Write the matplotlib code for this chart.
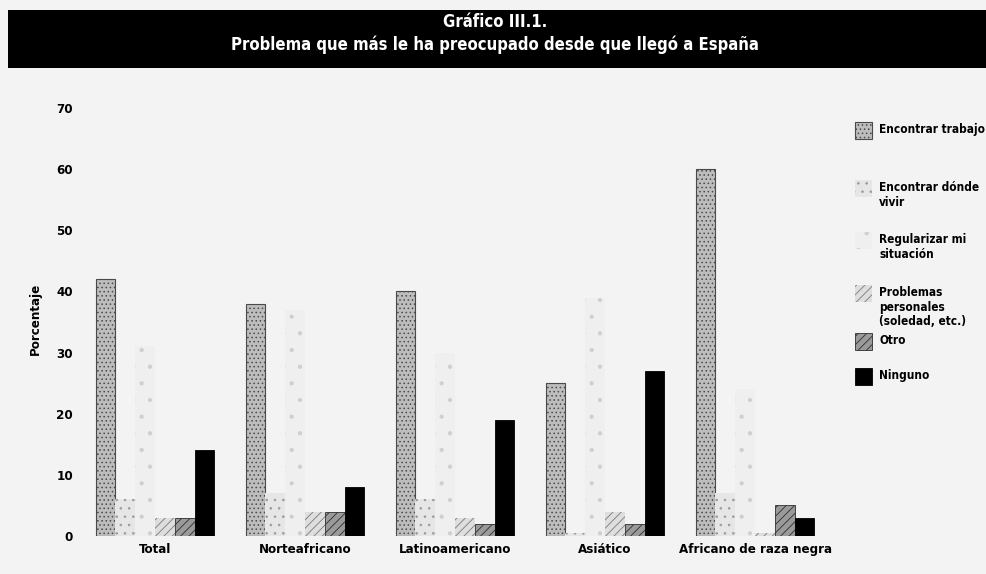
import matplotlib
matplotlib.use("Agg")
import matplotlib.pyplot as plt
import numpy as np
from matplotlib.patches import Rectangle

plt.rcParams["font.family"] = ["DejaVu Sans"]
plt.rcParams["font.stretch"] = "condensed"
plt.rcParams["font.weight"] = "bold"
plt.rcParams["hatch.linewidth"] = 0.6

groups = ["Total", "Norteafricano", "Latinoamericano", "Asiático", "Africano de raza negra"]
series = [
    "Encontrar trabajo",
    "Encontrar dónde\nvivir",
    "Regularizar mi\nsituación",
    "Problemas\npersonales\n(soledad, etc.)",
    "Otro",
    "Ninguno",
]
trabajo = [42, 38, 40, 25, 60]
donde_vivir = [6, 7, 6, 0.5, 7]
regularizar = [31, 37, 30, 39, 24]
personales = [3, 4, 3, 4, 0.5]
otro = [3, 4, 2, 2, 5]
ninguno = [14, 8, 19, 27, 3]
values = [trabajo, donde_vivir, regularizar, personales, otro, ninguno]
y_ticks = [0, 10, 20, 30, 40, 50, 60, 70]

styles = [
    dict(facecolor="#bdbdbd", edgecolor="#4a4a4a", hatch="....", linewidth=0.8),
    dict(facecolor="#e6e6e6", edgecolor="#9a9a9a", hatch="..", linewidth=0),
    dict(facecolor="#efefef", edgecolor="#cfcfcf", hatch=".", linewidth=0),
    dict(facecolor="#dedede", edgecolor="#7a7a7a", hatch="////", linewidth=0),
    dict(facecolor="#9a9a9a", edgecolor="#2e2e2e", hatch="////", linewidth=0.6),
    dict(facecolor="#000000", edgecolor="#000000", hatch=None, linewidth=0.6),
]
# legend swatch tops, in pixels from the top of the figure
legend_tops = [122, 180, 232, 285, 333, 368]

W, H = 986, 574
bg = "#f3f3f3"
fig = plt.figure(figsize=(W / 100, H / 100), dpi=100, facecolor=bg)
ax = fig.add_axes([0.0811, 0.0662, 0.7607, 0.7456])
ax.set_facecolor("none")

x = np.arange(len(groups))
w = 0.132
for i, (vals, st) in enumerate(zip(values, styles)):
    ax.bar(x + (i - 2.5) * w, vals, width=w, **st)

ax.set_xlim(-0.5, 4.5)
ax.set_ylim(0, 70)
ax.set_yticks(y_ticks)
ax.set_xticks(x)
ax.set_xticklabels(groups)
ax.tick_params(length=0, labelsize=9.5, pad=5)
for s in ax.spines.values():
    s.set_visible(False)

fig.text(0.036, 0.445, "Porcentaje", rotation=90, ha="center", va="center", fontsize=9.5)

# title banner
fig.add_artist(Rectangle((8 / W, 1 - 68 / H), 1 - 8 / W, 58 / H, transform=fig.transFigure,
                         facecolor="black", edgecolor="none", zorder=0))
fig.text(0.502, 1 - 22 / H, "Gráfico III.1.", color="white", ha="center", va="center", fontsize=12)
fig.text(0.502, 1 - 45 / H, "Problema que más le ha preocupado desde que llegó a España",
         color="white", ha="center", va="center", fontsize=12)

# legend, swatch next to the first line of each label
for label, st, top in zip(series, styles, legend_tops):
    fig.add_artist(Rectangle((855 / W, 1 - (top + 17) / H), 17 / W, 17 / H,
                             transform=fig.transFigure, **st))
    fig.text(879 / W, 1 - (top + 1) / H, label, ha="left", va="top",
             fontsize=8.5, linespacing=1.15)

fig.savefig("out.png", dpi=100, facecolor=bg)
